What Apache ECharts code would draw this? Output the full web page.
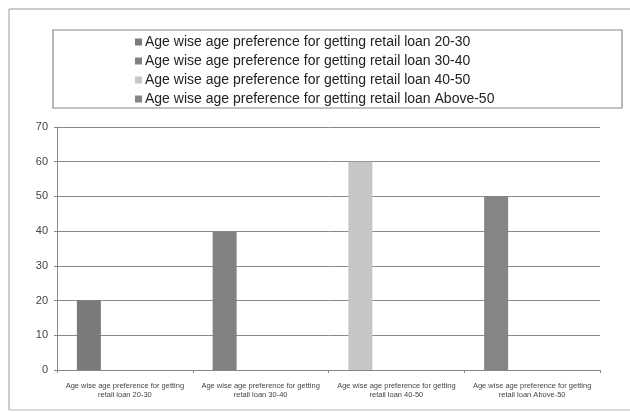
<!DOCTYPE html>
<html>
<head>
<meta charset="utf-8">
<script src="https://cdn.jsdelivr.net/npm/echarts@6/dist/echarts.min.js"></script>
<style>
  html, body { margin: 0; padding: 0; background: #fff; }
  #chart { width: 630px; height: 412px; }
</style>
</head>
<body>
<div id="chart"></div>
<script>
const chart = echarts.init(document.getElementById("chart"));

const CATEGORIES = [
  "Age wise age preference for getting\nretail loan 20-30",
  "Age wise age preference for getting\nretail loan 30-40",
  "Age wise age preference for getting\nretail loan 40-50",
  "Age wise age preference for getting\nretail loan Above-50"
];
const SERIES_NAMES = [
  "Age wise age preference for getting retail loan 20-30",
  "Age wise age preference for getting retail loan 30-40",
  "Age wise age preference for getting retail loan 40-50",
  "Age wise age preference for getting retail loan Above-50"
];
const VALUES = [20, 40, 60, 50];
const COLORS = ["#7b7b7b", "#828282", "#c6c6c6", "#858585"];
const Y_TICKS = { min: 0, max: 70, interval: 10 };

// each series only has a value in its own category (Excel-style one bar per age group)
const series = SERIES_NAMES.map((name, i) => ({
  name: name,
  type: "bar",
  stack: "age",
  barWidth: 24,
  itemStyle: { color: COLORS[i] },
  data: VALUES.map((v, j) => (j === i ? v : "-"))
}));
// empty spacer so the bars sit left of the category centre like the original
series.push({
  name: "pad",
  type: "bar",
  barWidth: 72,
  barGap: 0,
  data: VALUES.map(() => "-")
});

chart.setOption({
  backgroundColor: "#fff",
  textStyle: { fontFamily: "Liberation Sans, Arial, sans-serif" },
  graphic: [
    { type: "line", shape: { x1: 9, y1: 9, x2: 630, y2: 9 }, style: { stroke: "#999", lineWidth: 1 } },
    { type: "line", shape: { x1: 9, y1: 9, x2: 9, y2: 410 }, style: { stroke: "#999", lineWidth: 1 } },
    { type: "line", shape: { x1: 9, y1: 410, x2: 630, y2: 410 }, style: { stroke: "#bbb", lineWidth: 1 } },
    {
      type: "rect",
      shape: { x: 53, y: 30, width: 569, height: 78 },
      style: { fill: "none", stroke: "#888", lineWidth: 1.2 }
    }
  ],
  legend: {
    data: SERIES_NAMES,
    orient: "vertical",
    left: 130,
    top: 30,
    itemWidth: 7,
    itemHeight: 7,
    itemGap: 5,
    icon: "rect",
    textStyle: { fontSize: 14, color: "#222", padding: [0, 0, 0, -2] }
  },
  grid: { left: 57, right: 30, top: 127, bottom: 42 },
  xAxis: {
    type: "category",
    data: CATEGORIES,
    axisLine: { lineStyle: { color: "#888" } },
    axisTick: { show: true, length: 3, lineStyle: { color: "#888" } },
    axisLabel: {
      interval: 0,
      fontSize: 7.5,
      lineHeight: 9,
      color: "#444",
      margin: 11
    }
  },
  yAxis: {
    type: "value",
    min: Y_TICKS.min,
    max: Y_TICKS.max,
    interval: Y_TICKS.interval,
    axisLine: { show: true, lineStyle: { color: "#888" } },
    axisTick: { show: true, length: 3, lineStyle: { color: "#888" } },
    axisLabel: { fontSize: 11, color: "#444", margin: 9 },
    splitLine: { lineStyle: { color: "#8a8a8a", width: 1 } }
  },
  series: series
});
</script>
</body>
</html>
